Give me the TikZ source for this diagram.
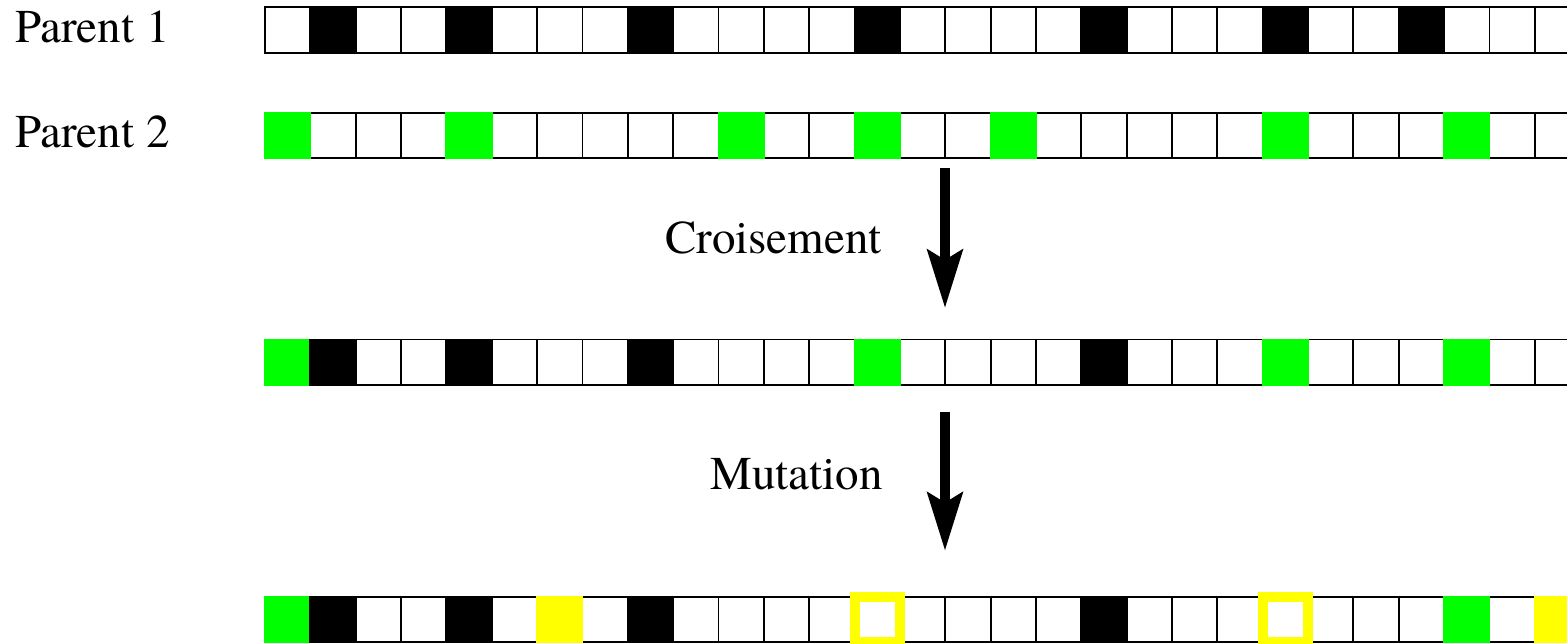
\documentclass[tikz,border=0pt]{standalone}
\usepackage{fontspec}
\setmainfont{TeX Gyre Termes}
\usetikzlibrary{arrows.meta}
\definecolor{gengreen}{RGB}{0,255,0}
\definecolor{genyellow}{RGB}{255,255,0}
\tikzset{
  cell/.style={rectangle, draw=black, line width=1.9pt, minimum width=45.35pt,
    minimum height=45.5pt, inner sep=0pt, anchor=center},
  blk/.style={fill=black},
  grn/.style={fill=gengreen},
  yel/.style={fill=genyellow},
  mutring/.style={draw=genyellow, line width=10pt},
  lbl/.style={font=\fontsize{47}{56}\selectfont, inner sep=0pt},
  bigarrow/.style={line width=10pt, -{Stealth[length=58pt,width=35pt,inset=10pt]}},
}
\newcommand\genrow[2]{%
  \foreach \i in {0,...,29} {
    \node[cell] (#1c\i) at ({265+(\i+0.5)*45.35}, {#2+22.75}) {};
  }%
}
\newcommand\fillcells[3]{%
  \foreach \i in {#3} {
    \fill[#2] (#1c\i.north west) rectangle (#1c\i.south east);
  }%
}
\begin{document}
\begin{tikzpicture}[x=1pt, y=-1pt]
  \useasboundingbox (0,0) rectangle (1567,643);
  \clip (0,0) rectangle (1567,643);

  % labels
  \node[lbl, anchor=base west] (p1) at (15,42.7) {Parent 1};
  \node[lbl, anchor=base west] (p2) at (15,147) {Parent 2};
  \node[lbl, anchor=base east] (cross) at (882,253) {Croisement};
  \node[lbl, anchor=base east] (mut) at (883,489) {Mutation};

  % rows
  \genrow{a}{7.3}
  \genrow{b}{112.9}
  \genrow{c}{339.5}
  \genrow{d}{596.8}

  % Parent 1
  \fillcells{a}{blk}{1,4,8,13,18,22,25}
  % Parent 2
  \fillcells{b}{grn}{0,4,10,13,16,22,26}
  % child
  \fillcells{c}{grn}{0,13,22,26}
  \fillcells{c}{blk}{1,4,8,18}
  % mutated
  \fillcells{d}{grn}{0,26}
  \fillcells{d}{blk}{1,4,8,18}
  \fillcells{d}{yel}{6,28}
  \foreach \i in {13,22} {
    \draw[mutring] ([shift={(0.95,0.95)}]dc\i.north west) rectangle ([shift={(-0.95,-0.95)}]dc\i.south east);
  }

  % arrows
  \coordinate (x1top) at (945,168);
  \coordinate (x1tip) at (945,308);
  \coordinate (x2top) at (945,411.7);
  \coordinate (x2tip) at (945,550.7);
  \draw[bigarrow] (x1top) -- (x1tip);
  \draw[bigarrow] (x2top) -- (x2tip);
\end{tikzpicture}
\end{document}
